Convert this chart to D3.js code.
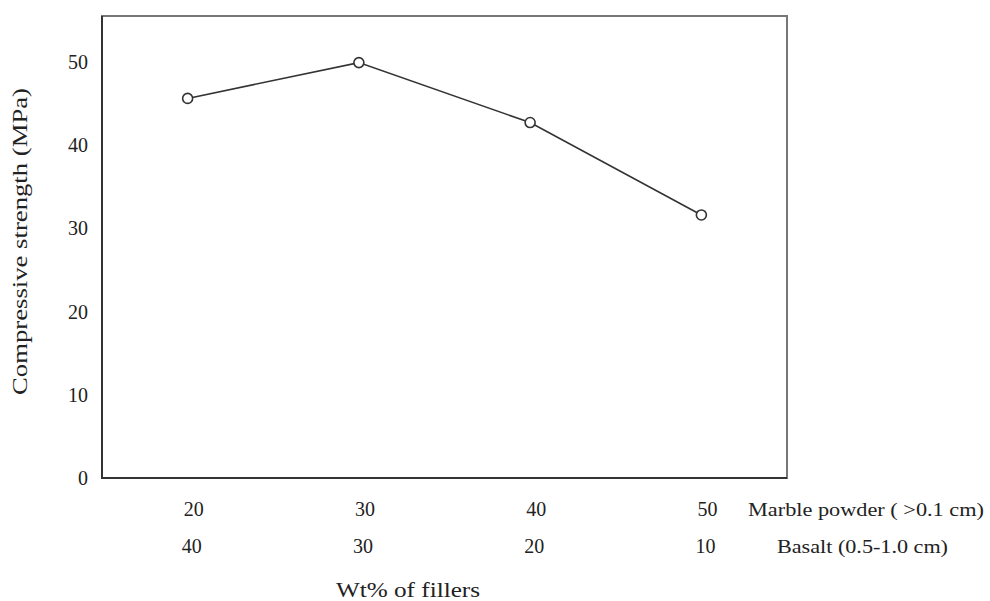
<!DOCTYPE html>
<html>
<head>
<meta charset="utf-8">
<script src="https://cdn.jsdelivr.net/npm/d3@7"></script>
<style>
  body { margin: 0; background: #fff; }
  text { font-family: "Liberation Serif", "DejaVu Serif", serif; fill: #222; }
</style>
</head>
<body>
<script>
// data
var marblePct = ["20", "30", "40", "50"];
var basaltPct = ["40", "30", "20", "10"];
var strength = [45.6, 49.9, 42.7, 31.6];
var yTicks = [0, 10, 20, 30, 40, 50];

var width = 990, height = 601;
var plotL = 102, plotR = 787, plotT = 16, plotB = 478;

var svg = d3.select("body").append("svg")
    .attr("width", width).attr("height", height);

var x = d3.scalePoint().domain(marblePct).range([plotL, plotR]).padding(0.5);
var y = d3.scaleLinear().domain([0, 55.5]).range([plotB, plotT]);

// frame
svg.append("rect")
    .attr("x", plotL).attr("y", plotT)
    .attr("width", plotR - plotL).attr("height", plotB - plotT)
    .attr("fill", "none").attr("stroke", "#777").attr("stroke-width", 2);
svg.append("path")
    .attr("d", "M" + plotL + "," + plotT + "V" + plotB + "H" + plotR)
    .attr("fill", "none").attr("stroke", "#333").attr("stroke-width", 2);

// y tick labels
svg.selectAll("text.ytick").data(yTicks).enter().append("text")
    .attr("class", "ytick")
    .attr("x", 88)
    .attr("y", function (d) { return y(d); })
    .attr("dy", "0.35em")
    .attr("text-anchor", "end")
    .style("font-size", "20px")
    .text(function (d) { return d; });

// x labels, two rows
svg.selectAll("text.xm").data(marblePct).enter().append("text")
    .attr("class", "xm")
    .attr("x", function (d) { return x(d) + 6; })
    .attr("y", 516)
    .attr("text-anchor", "middle")
    .style("font-size", "20px")
    .text(function (d) { return d; });
svg.selectAll("text.xb").data(basaltPct).enter().append("text")
    .attr("class", "xb")
    .attr("x", function (d, i) { return x(marblePct[i]) + 4; })
    .attr("y", 553)
    .attr("text-anchor", "middle")
    .style("font-size", "20px")
    .text(function (d) { return d; });

svg.append("text").attr("x", 748).attr("y", 516)
    .style("font-size", "19px")
    .attr("textLength", 236).attr("lengthAdjust", "spacingAndGlyphs")
    .text("Marble powder ( >0.1 cm)");
svg.append("text").attr("x", 777).attr("y", 553)
    .style("font-size", "19px")
    .attr("textLength", 171).attr("lengthAdjust", "spacingAndGlyphs")
    .text("Basalt (0.5-1.0 cm)");

svg.append("text").attr("x", 336).attr("y", 597)
    .style("font-size", "21px")
    .attr("textLength", 144).attr("lengthAdjust", "spacingAndGlyphs")
    .text("Wt% of fillers");

svg.append("text")
    .attr("transform", "translate(27,395) rotate(-90)")
    .style("font-size", "21px")
    .attr("textLength", 307).attr("lengthAdjust", "spacingAndGlyphs")
    .text("Compressive strength (MPa)");

// series
var pts = strength.map(function (v, i) { return [x(marblePct[i]), y(v)]; });
svg.append("path")
    .attr("d", d3.line()(pts))
    .attr("fill", "none").attr("stroke", "#333").attr("stroke-width", 1.6);
svg.selectAll("circle").data(pts).enter().append("circle")
    .attr("cx", function (d) { return d[0]; })
    .attr("cy", function (d) { return d[1]; })
    .attr("r", 5)
    .attr("fill", "#fff").attr("stroke", "#333").attr("stroke-width", 1.6);
</script>
</body>
</html>
